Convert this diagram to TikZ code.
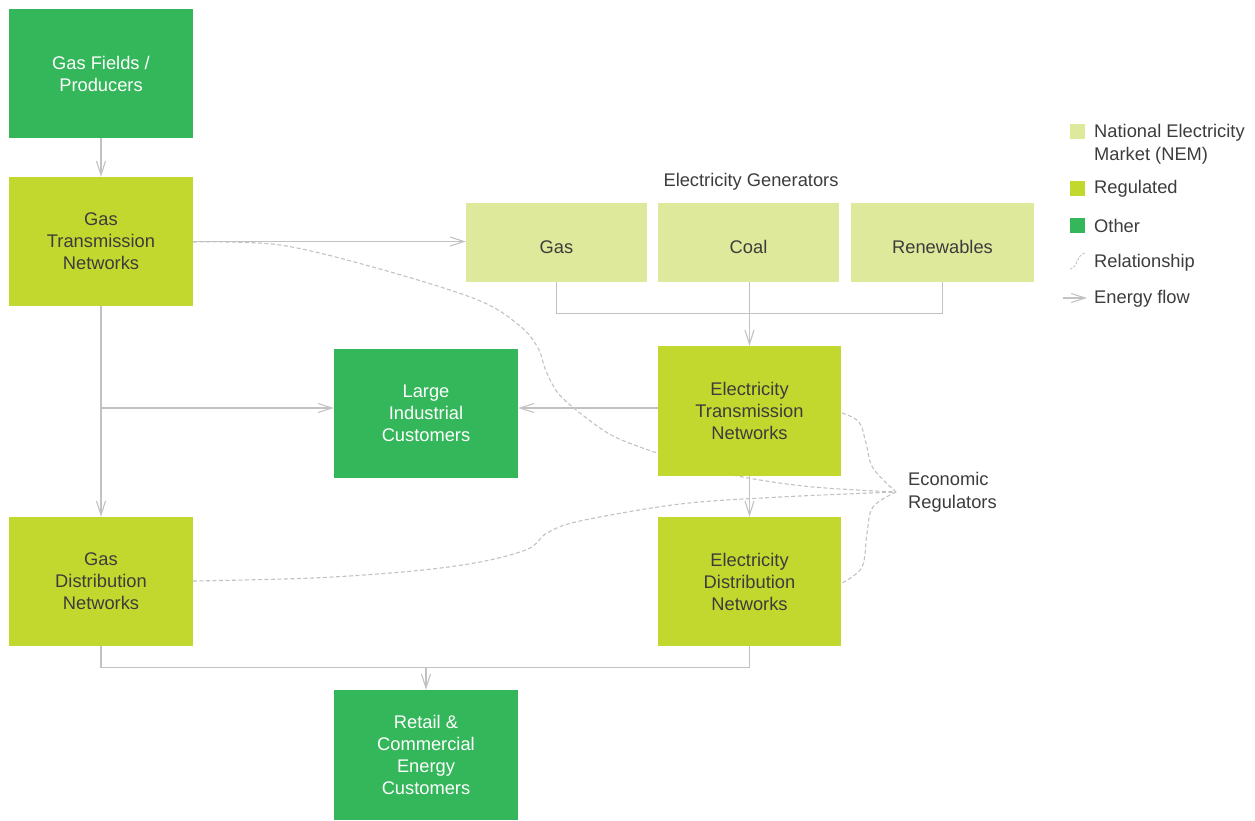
\documentclass[tikz,border=0pt]{standalone}
\usepackage{fontspec}
\setmainfont{Liberation Sans}
\usetikzlibrary{arrows.meta,calc}
\definecolor{nem}{HTML}{DFE99B}
\definecolor{reg}{HTML}{C3D82E}
\definecolor{oth}{HTML}{34B65A}
\definecolor{ln}{HTML}{C2C2C2}
\definecolor{tx}{HTML}{3C3C3C}
\tikzset{
  box/.style={inner sep=0pt, align=center, font=\fontsize{18.3}{22}\selectfont, text=tx},
  big/.style={box, minimum width=184pt, minimum height=129pt},
  gen/.style={box, fill=nem, minimum width=182pt, minimum height=79pt, text height=21pt, text depth=0pt},
  regbox/.style={big, fill=reg},
  othbox/.style={big, fill=oth, text=white},
  flow/.style={draw=ln, line width=1.3pt, -{Straight Barb[length=14pt,width=9pt,line width=1.1pt]}},
  plain/.style={draw=ln, line width=1.3pt},
  rel/.style={draw=ln, line width=1.1pt, dash pattern=on 4pt off 2.5pt},
  lbl/.style={font=\fontsize{18.3}{23}\selectfont, text=tx, align=left, inner sep=0pt},
}
\begin{document}
\begin{tikzpicture}[x=1pt,y=-1pt]
\useasboundingbox (0,0) rectangle (1255,820);
% regulators point
\coordinate (er) at (896,492);
% dashed relationships (drawn behind boxes)
\draw[rel] plot[smooth, tension=0.55] coordinates {(193,242) (280,245) (380,269) (478,300) (520,326) (538,348) (546,371) (558,393) (580,413) (613,436) (657,453) (700,467) (748,478) (813,487) (er)};
\draw[rel] plot[smooth, tension=0.55] coordinates {(193,581) (313,578) (413,571) (480,562) (528,549) (547,533) (580,521) (680,504) (780,497) (er)};
\draw[rel] plot[smooth, tension=0.6] coordinates {(842,413) (859,422) (866,443) (873,468) (er)};
\draw[rel] plot[smooth, tension=0.6] coordinates {(er) (873,507) (867,533) (862,567) (842,583)};

% boxes
\node[othbox] (gf) at (101,73.5) {Gas Fields /\\Producers};
\node[regbox] (gt) at (101,241.5) {Gas\\Transmission\\Networks};
\node[regbox] (gd) at (101,581.5) {Gas\\Distribution\\Networks};
\node[othbox] (li) at (426,413.5) {Large\\Industrial\\Customers};
\node[othbox, minimum height=130pt] (rt) at (426,755) {Retail \&\\Commercial\\Energy\\Customers};
\node[regbox, minimum width=183pt, minimum height=130pt] (et) at (749.5,411) {Electricity\\Transmission\\Networks};
\node[regbox, minimum width=183pt] (ed) at (749.5,581.5) {Electricity\\Distribution\\Networks};
\node[gen, minimum width=181pt] (gg) at (556.5,242.5) {Gas};
\node[gen, minimum width=181pt] (cl) at (748.5,242.5) {Coal};
\node[gen, minimum width=183pt] (rn) at (942.5,242.5) {Renewables};
\node[lbl, anchor=base] (egl) at (751,186) {Electricity Generators};
\node[lbl, anchor=west] (erl) at (908,492) {Economic\\Regulators};

% energy flows
\draw[flow] (gf.south) -- (gt.north);
\draw[flow] (gt.east) -- (gt.east -| gg.west);
\draw[flow] (gt.south) -- (gd.north);
\coordinate (ind) at (101,408);
\draw[flow] (ind) -- (li.west |- ind);
\draw[flow] (et.west |- ind) -- (li.east |- ind);
\draw[plain] (gg.south) -- ++(0,31) -| (rn.south);
\draw[flow] (et.north |- cl.south) -- (et.north);
\draw[flow] (et.south) -- (ed.north);
\draw[plain] (gd.south) -- ++(0,21) coordinate (bl) -| (ed.south);
\draw[flow] (rt.north |- bl) -- (rt.north);

% legend
\node[fill=nem, minimum size=15pt, inner sep=0pt] (k1) at (1077.5,131.5) {};
\node[fill=reg, minimum size=15pt, inner sep=0pt] (k2) at (1077.5,188.5) {};
\node[fill=oth, minimum size=15pt, inner sep=0pt] (k3) at (1077.5,225) {};
\node[lbl, anchor=north west] (t1) at (1094,124) {National Electricity\\Market (NEM)};
\node[lbl, anchor=west] (t2) at (1094,189) {Regulated};
\node[lbl, anchor=west] (t3) at (1094,226) {Other};
\node[lbl, anchor=west] (t4) at (1094,263) {Relationship};
\node[lbl, anchor=west] (t5) at (1094,299) {Energy flow};
\coordinate (r1) at (1070,269);
\coordinate (r2) at (1085,253);
\draw[rel, line width=0.9pt, dash pattern=on 2.5pt off 1.5pt] (r1) .. controls (1078,268) and (1076,255) .. (r2);
\coordinate (f1) at (1063,298);
\coordinate (f2) at (1087,298);
\draw[flow] (f1) -- (f2);
\end{tikzpicture}
\end{document}
